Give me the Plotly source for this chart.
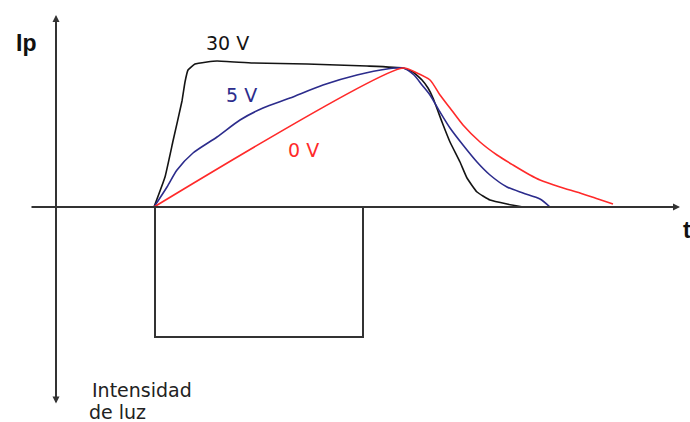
import plotly.graph_objects as go

# Photocurrent Ip versus time for three bias voltages (arbitrary units)
t_30v = [9.8, 10.9, 11.7, 12.6, 12.9, 13.2, 13.9, 15.1, 16.1, 19.7, 25.1, 31.1, 34.7,
         35.7, 36.6, 37.2, 37.7, 38.6, 39.4, 40.4, 41.1, 42.1, 43.4, 45.1, 46.7]
ip_30v = [0.0, 3.0, 6.6, 10.6, 12.5, 13.7, 14.3, 14.5, 14.6, 14.4, 14.3, 14.1, 13.9,
          13.5, 12.7, 11.9, 10.9, 8.5, 6.5, 4.5, 2.9, 1.5, 0.7, 0.3, 0.0]

t_5v = [9.8, 11.1, 12.1, 13.7, 16.1, 18.4, 20.7, 23.4, 26.7, 30.1, 33.1, 34.7,
        35.8, 36.6, 37.4, 38.4, 39.4, 40.7, 42.1, 43.4, 45.1, 46.7, 48.4, 49.4]
ip_5v = [0.0, 2.0, 3.7, 5.4, 7.0, 8.7, 9.9, 10.9, 12.2, 13.2, 13.8, 13.9,
         13.2, 12.2, 11.2, 9.5, 7.9, 6.2, 4.5, 3.2, 2.0, 1.4, 0.8, 0.0]

t_0v = [9.8, 34.7, 36.1, 37.4, 38.4, 39.4, 40.7, 42.4, 44.1, 45.7, 47.4,
        48.4, 50.4, 52.4, 54.2, 55.7]
ip_0v = [0.0, 13.9, 13.4, 12.7, 11.2, 9.9, 8.2, 6.5, 5.2, 4.2, 3.2,
         2.7, 2.0, 1.4, 0.8, 0.3]

# Light pulse (drawn below the time axis)
light_t = [9.9, 9.9, 30.7, 30.7]
light_i = [0.0, -13.0, -13.0, 0.0]

series_labels = ["30 V", "5 V", "0 V"]
label_pos = [(17.1, 16.4), (18.5, 11.2), (24.7, 5.7)]
colors = ["#141414", "#2c2c8c", "#ff2a2a"]
smooth = [0.35, 0.7, 0.7]

fig = go.Figure()

fig.add_trace(go.Scatter(x=light_t, y=light_i, mode="lines",
                         line=dict(color="#333333", width=2)))

for tx, iy, c, s in zip([t_30v, t_5v, t_0v], [ip_30v, ip_5v, ip_0v], colors, smooth):
    fig.add_trace(go.Scatter(x=tx, y=iy, mode="lines",
                             line=dict(color=c, width=1.6, shape="spline", smoothing=s)))

# Axes with arrow ends
fig.add_annotation(x=0, y=19.2, ax=0, ay=-19.8, xref="x", yref="y", axref="x", ayref="y",
                   showarrow=True, arrowhead=2, startarrowhead=2, arrowside="end+start",
                   arrowsize=0.7, arrowwidth=2, arrowcolor="#333333", text="")
fig.add_annotation(x=62.4, y=0, ax=-2.6, ay=0, xref="x", yref="y", axref="x", ayref="y",
                   showarrow=True, arrowhead=2, arrowsize=0.7, arrowwidth=2,
                   arrowcolor="#333333", text="")

lab_font = "DejaVu Sans, Verdana, sans-serif"
for txt, (x, y), c in zip(series_labels, label_pos, colors):
    fig.add_annotation(x=x, y=y, text=txt, showarrow=False,
                       font=dict(family=lab_font, size=19, color=c))

fig.add_annotation(x=-3.0, y=16.4, text="<b>Ip</b>", showarrow=False,
                   font=dict(family="Liberation Sans, Arial, sans-serif", size=23, color="#111111"))
fig.add_annotation(x=62.45, y=-2.3, text="<b>t</b>", showarrow=False, xanchor="left",
                   font=dict(family="Liberation Sans, Arial, sans-serif", size=23, color="#111111"))
fig.add_annotation(x=3.35, y=-18.3, text="Intensidad", showarrow=False, xanchor="left",
                   font=dict(family=lab_font, size=19, color="#222222"))
fig.add_annotation(x=3.05, y=-20.45, text="de luz", showarrow=False, xanchor="left",
                   font=dict(family=lab_font, size=19, color="#222222"))

fig.update_layout(
    width=690, height=422,
    margin=dict(l=0, r=0, t=0, b=0),
    paper_bgcolor="white", plot_bgcolor="white",
    showlegend=False,
    xaxis=dict(range=[-5.6, 63.4], visible=False, fixedrange=True),
    yaxis=dict(range=[-21.5, 20.7], visible=False, fixedrange=True),
)

fig.write_html("out.html")
